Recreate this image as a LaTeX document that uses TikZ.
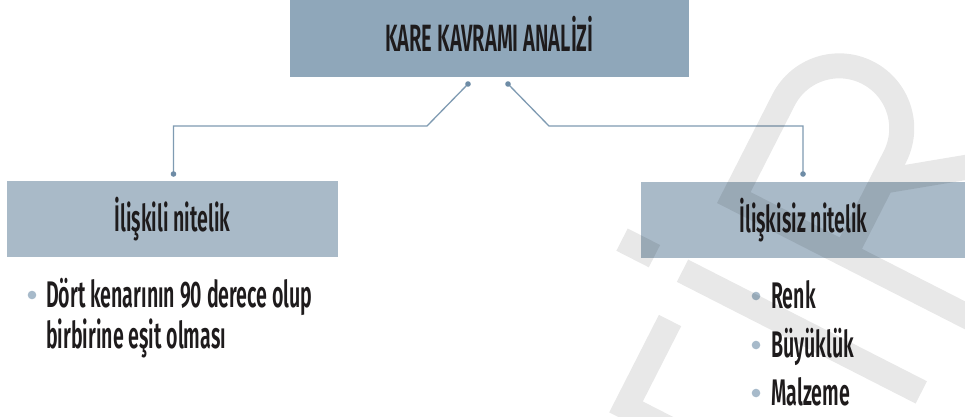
\documentclass[tikz,border=0pt]{standalone}
\usepackage{fontspec}
\setmainfont{Fira Sans}[UprightFont=* SemiBold, FakeStretch=0.53]
\definecolor{titlefill}{HTML}{8FA7BA}
\definecolor{subfill}{HTML}{A9BAC8}
\definecolor{linec}{HTML}{7F9BB2}
\definecolor{dotc}{HTML}{6E8CA6}
\definecolor{bulc}{HTML}{A7BACA}
\definecolor{ink}{HTML}{1E1B1C}
\begin{document}
\begin{tikzpicture}[x=1pt,y=-1pt,
  titlebox/.style={fill=titlefill, minimum width=399pt, minimum height=77pt, inner sep=0pt,
    font=\fontsize{38}{42}\selectfont, text=ink, text height=26.2pt, text depth=0pt},
  subbox/.style={fill=subfill, minimum height=76pt, inner sep=0pt,
    font=\fontsize{37}{42}\selectfont, text=ink, text height=25.5pt, text depth=0pt},
  conn/.style={draw=linec, line width=1.3pt},
  knob/.style={fill=dotc},
  bul/.style={fill=bulc},
  item/.style={anchor=base west, inner sep=0pt, font=\fontsize{37}{42}\selectfont, text=ink},
  wm/.style={draw=black, draw opacity=0.09, line width=25pt, line cap=butt, line join=miter}]
\fill[white] (0,0) rectangle (965,416);
\useasboundingbox (0,0) rectangle (965,416);

% boxes
\node[titlebox] (title) at (489.5,38.5) {KARE KAVRAMI ANALİZİ};
\node[subbox, minimum width=331pt] (left) at (172.5,219) {İlişkili nitelik};
\node[subbox, minimum width=325pt] (right) at (803.5,219.5) {İlişkisiz nitelik};

% connector ends
\coordinate (t1) at (468,84);
\coordinate (t2) at (508,84);
\coordinate (l1) at (173.5,174);
\coordinate (r1) at (803,174);
\draw[conn] (t1) -- ++(-41,42) -| (l1);
\draw[conn] (t2) -- ++(41,42) -| (r1);
\foreach \p in {t1,t2,l1,r1} \fill[knob] (\p) circle (2.8pt);

% left bullet
\fill[bul] (32,295) circle (4.3pt);
\node[item] (la) at (46,307) {Dört kenarının 90 derece olup};
\node[item] (lb) at (46,348) {birbirine eşit olması};

% right bullets
\fill[bul] (756,296) circle (4.3pt);
\node[item] (ra) at (771,308) {Renk};
\fill[bul] (756,345) circle (4.3pt);
\node[item] (rb) at (771,357) {Büyüklük};
\fill[bul] (756,393) circle (4.3pt);
\node[item] (rc) at (771,405) {Malzeme};

% watermark
\begin{scope}[shift={(717,203)}, x={(0.891pt,-0.454pt)}, y={(0.454pt,0.891pt)}]
  \draw[wm] (400,12.5) -- (12.5,12.5) -- (12.5,122) arc[start angle=180, end angle=0, radius=62.5] -- (137.5,12.5)
        (137.5,94.4) -- (238.3,168.9)
        (-68,-75.75) -- (-31.6,-75.75)
        (0,-76) -- (268,-76)
        (11.5,-126) -- (11.5,-223) -- (300,-223);
\end{scope}
\end{tikzpicture}
\end{document}
